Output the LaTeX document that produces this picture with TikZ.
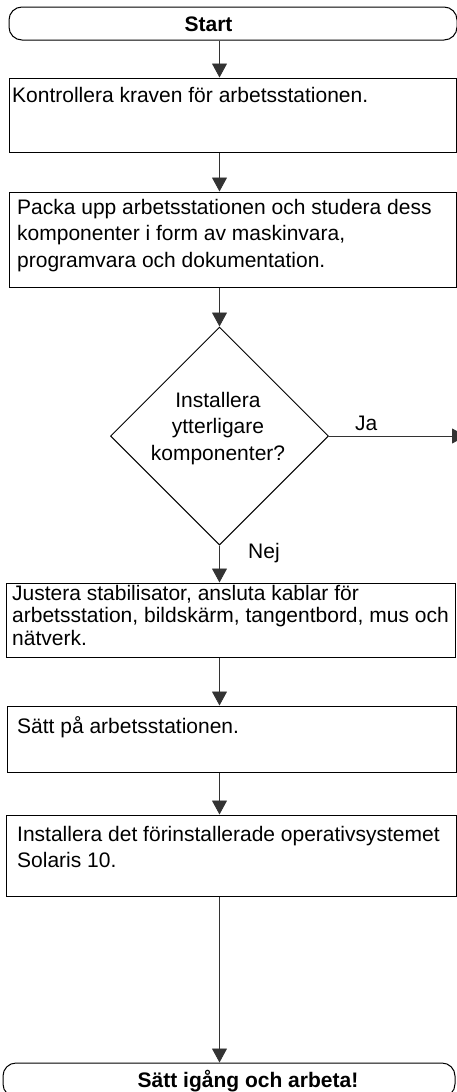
\documentclass[tikz,border=0pt]{standalone}
\usepackage{fontspec}
\setmainfont{Liberation Sans}
\usetikzlibrary{arrows.meta,shapes.geometric}
\begin{document}
\begin{tikzpicture}[x=1pt,y=-1pt,
  box/.style={draw=black, line width=1pt, inner sep=0pt},
  term/.style={draw=black, line width=1pt, inner sep=0pt, rounded corners=13pt},
  dec/.style={draw=black, line width=1pt, diamond, inner sep=0pt, minimum width=218pt, minimum height=218pt},
  txt/.style={inner sep=0pt, anchor=base west, font=\fontsize{21}{26.7}\selectfont},
  ttl/.style={inner sep=0pt, anchor=base, font=\fontsize{21}{26.7}\selectfont\bfseries},
  arr/.style={draw=black!80, line width=0.9pt, -{Triangle[length=14pt,width=15pt]}}
]
\useasboundingbox (0,0) rectangle (457,1092);

% shapes
\node[term, minimum width=448pt, minimum height=33pt] (start) at (233,23.5) {};
\node[box, minimum width=447pt, minimum height=74.5pt] (b1) at (232.5,115.25) {};
\node[box, minimum width=447pt, minimum height=95pt] (b2) at (232.5,239.5) {};
\node[dec] (d) at (219.5,436) {};
\node[box, minimum width=449pt, minimum height=74pt] (b3) at (230.5,620) {};
\node[box, minimum width=449pt, minimum height=66pt] (b4) at (231.5,739) {};
\node[box, minimum width=450pt, minimum height=81pt] (b5) at (231,855.5) {};
\node[term, minimum width=452pt, minimum height=34pt] (end) at (229,1080) {};
\coordinate (jaend) at (466,436);

% texts
\node[ttl] (tstart) at (208.5,31) {Start};
\node[txt] (t1) at (12,102) {Kontrollera kraven för arbetsstationen.};
\node[txt] (t2) at (17,214) {\vtop{\hbox{Packa upp arbetsstationen och studera dess}\hbox{komponenter i form av maskinvara,}\hbox{programvara och dokumentation.}}};
\node[txt, anchor=base] (td) at (218,407) {\vtop{\halign{\hfil#\hfil\cr Installera\cr ytterligare\cr komponenter?\cr}}};
\node[txt] (tja) at (355,430) {Ja};
\node[txt] (tnej) at (248,558) {Nej};
\node[txt, font=\fontsize{21}{22.5}\selectfont] (t3) at (12,600) {\vtop{\hbox{Justera stabilisator, ansluta kablar för}\hbox{arbetsstation, bildskärm, tangentbord, mus och}\hbox{nätverk.}}};
\node[txt] (t4) at (17,733) {Sätt på arbetsstationen.};
\node[txt] (t5) at (17,841) {\vtop{\hbox{Installera det förinstallerade operativsystemet}\hbox{Solaris 10.}}};
\node[ttl] (tend) at (248,1087) {Sätt igång och arbeta!};

% connectors
\draw[arr] (start.south -| d.north) -- (b1.north -| d.north);
\draw[arr] (b1.south -| d.north) -- (b2.north -| d.north);
\draw[arr] (b2.south -| d.north) -- (d.north);
\draw[arr] (d.east) -- (jaend);
\draw[arr] (d.south) -- (b3.north -| d.south);
\draw[arr] (b3.south -| d.north) -- (b4.north -| d.north);
\draw[arr] (b4.south -| d.north) -- (b5.north -| d.north);
\draw[arr] (b5.south -| d.north) -- (end.north -| d.north);
\end{tikzpicture}
\end{document}
